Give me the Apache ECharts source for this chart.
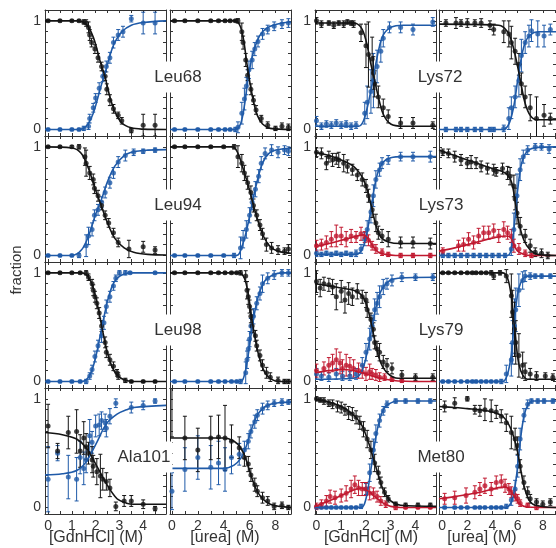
<!DOCTYPE html>
<html>
<head>
<meta charset="utf-8">
<script src="https://cdn.jsdelivr.net/npm/echarts@6/dist/echarts.min.js"></script>
<style>html,body{margin:0;background:#fff}#main{width:556px;height:548px}</style>
</head>
<body>
<div id="main"></div>
<script>
// tick / label values
var gdnTicks = [0, 0.5, 1, 1.5, 2, 2.5, 3, 3.5, 4, 4.5];
var gdnLabels = [0, 1, 2, 3, 4];
var ureaTicks = [0, 1, 2, 3, 4, 5, 6, 7, 8, 9];
var ureaLabels = [0, 2, 4, 6, 8];
var fracTicks = [0, 0.1, 0.2, 0.3, 0.4, 0.5, 0.6, 0.7, 0.8, 0.9, 1];
var fracLabels = [0, 1];

// data: [denaturant, fraction, error]; fits: [denaturant, fraction]
// N = native (black), U = unfolded (blue), I = intermediate (red)
var leu68Gdn_N = [[0,1,0.01],[0.5,1,0.01],[1.0,1,0.01],[1.3,1,0.01],[1.5,0.99,0.02],[1.6,0.98,0.03],[1.7,0.94,0.05],[1.75,0.87,0.05],[1.83,0.8,0.04],[1.97,0.74,0.04],[2.1,0.66,0.04],[2.25,0.58,0.04],[2.4,0.49,0.04],[2.47,0.37,0.05],[2.6,0.27,0.05],[2.75,0.19,0.04],[2.95,0.13,0.03],[3.1,0.08,0.03],[3.5,-0.01,0.02],[4.0,0.04,0.1],[4.5,0.04,0.1]];
var leu68Gdn_Nfit = [[-0.13,1],[1.2,1],[1.6,0.97],[1.9,0.85],[2.2,0.62],[2.4,0.48],[2.6,0.3],[2.8,0.17],[3.1,0.06],[3.5,0.015],[4.0,0.003],[4.96,0]];
var leu68Gdn_U = [[0,0,0.01],[0.5,0,0.01],[1.0,0,0.01],[1.3,0,0.01],[1.5,0.01,0.02],[1.7,0.03,0.03],[1.75,0.1,0.04],[1.9,0.2,0.04],[2.0,0.29,0.04],[2.15,0.38,0.05],[2.3,0.49,0.05],[2.45,0.58,0.05],[2.6,0.66,0.05],[2.75,0.8,0.05],[2.95,0.87,0.05],[3.15,0.9,0.05],[3.5,1.02,0.03],[4.0,0.98,0.1],[4.5,0.98,0.1]];
var leu68Gdn_Ufit = [[-0.13,0],[1.3,0],[1.6,0.03],[1.9,0.15],[2.2,0.38],[2.4,0.52],[2.6,0.68],[2.8,0.8],[3.1,0.9],[3.5,0.96],[4.0,0.985],[4.96,1]];

var leu68Urea_N = [[0.2,1,0.01],[1.0,1,0.01],[2.0,1,0.01],[3.0,1,0.01],[3.6,1,0.01],[4.1,1,0.01],[4.5,1,0.01],[4.9,1,0.01],[5.1,1,0.02],[5.4,0.9,0.08],[5.5,0.8,0.06],[5.7,0.64,0.06],[5.85,0.5,0.05],[6.1,0.37,0.05],[6.3,0.27,0.04],[6.5,0.18,0.04],[6.9,0.1,0.03],[7.4,0.04,0.03],[8.0,0.01,0.02],[8.5,0.03,0.03],[9.0,0.02,0.03]];
var leu68Urea_Nfit = [[-0.15,1],[4.8,1],[5.2,0.97],[5.5,0.85],[5.8,0.6],[6.0,0.45],[6.3,0.26],[6.6,0.13],[7.0,0.05],[7.6,0.01],[9.2,0]];
var leu68Urea_U = [[0.2,0,0.01],[1.0,0,0.01],[2.0,0,0.01],[3.0,0,0.01],[3.6,0,0.01],[4.1,0,0.01],[4.5,0,0.01],[4.9,0,0.02],[5.1,0.02,0.05],[5.4,0.15,0.1],[5.6,0.28,0.1],[5.75,0.4,0.08],[5.95,0.55,0.08],[6.2,0.64,0.08],[6.4,0.74,0.06],[6.65,0.81,0.05],[7.0,0.88,0.05],[7.4,0.92,0.04],[7.9,0.95,0.04],[8.5,0.97,0.04],[9.0,0.98,0.04]];
var leu68Urea_Ufit = [[-0.15,0],[4.9,0],[5.3,0.05],[5.6,0.22],[5.9,0.48],[6.2,0.67],[6.6,0.82],[7.0,0.9],[7.6,0.95],[8.5,0.98],[9.2,0.99]];

var lys72Gdn_N = [[0,1.0,0.03],[0.2,0.97,0.03],[0.5,0.98,0.02],[0.7,0.96,0.03],[0.9,0.98,0.02],[1.1,0.97,0.03],[1.25,0.99,0.02],[1.4,0.98,0.02],[1.5,0.97,0.03],[1.8,0.89,0.08],[2.0,0.77,0.2],[2.1,0.69,0.3],[2.25,0.65,0.2],[2.3,0.52,0.15],[2.35,0.42,0.12],[2.5,0.3,0.1],[2.7,0.2,0.08],[2.9,0.12,0.06],[3.4,0.06,0.05],[3.9,0.06,0.05],[4.7,0.04,0.03]];
var lys72Gdn_Nfit = [[-0.06,0.98],[1.5,0.98],[1.8,0.94],[2.0,0.82],[2.2,0.6],[2.35,0.45],[2.5,0.3],[2.7,0.14],[3.0,0.05],[3.5,0.03],[4.83,0.03]];
var lys72Gdn_U = [[0,0.08,0.04],[0.2,0.03,0.03],[0.4,0.05,0.03],[0.6,0.04,0.03],[0.8,0.06,0.03],[1.0,0.04,0.03],[1.2,0.05,0.03],[1.4,0.03,0.03],[1.6,0.04,0.03],[1.95,0.15,0.1],[2.05,0.25,0.15],[2.2,0.35,0.2],[2.3,0.45,0.25],[2.45,0.58,0.15],[2.6,0.72,0.1],[2.7,0.84,0.08],[2.95,0.94,0.05],[3.4,0.94,0.05],[3.9,0.92,0.05],[4.7,0.99,0.04]];
var lys72Gdn_Ufit = [[-0.06,0.03],[1.7,0.03],[1.9,0.08],[2.1,0.25],[2.3,0.48],[2.5,0.72],[2.7,0.87],[3.0,0.94],[3.5,0.96],[4.83,0.96]];

var lys72Urea_N = [[0.3,0.98,0.03],[1.1,0.98,0.05],[1.5,0.98,0.03],[2.0,0.98,0.04],[2.6,0.98,0.03],[3.1,0.98,0.04],[3.8,0.96,0.04],[4.1,0.92,0.05],[4.9,0.9,0.1],[5.3,0.88,0.12],[5.5,0.8,0.15],[5.8,0.72,0.12],[6.1,0.6,0.1],[6.3,0.42,0.1],[6.6,0.3,0.1],[7.0,0.2,0.12],[7.5,0.1,0.2],[8.1,0.13,0.1],[8.6,0.1,0.05]];
var lys72Urea_Nfit = [[-0.25,0.97],[4.5,0.96],[5.2,0.9],[5.6,0.78],[6.0,0.58],[6.3,0.4],[6.6,0.24],[7.0,0.13],[7.5,0.09],[9.05,0.09]];
var lys72Urea_U = [[0.3,0,0.02],[1.1,0,0.02],[1.5,0,0.02],[2.0,0,0.02],[2.6,0,0.02],[3.1,0,0.02],[3.8,0,0.02],[4.1,0,0.02],[4.9,0.01,0.03],[5.3,0.1,0.1],[5.5,0.2,0.1],[5.8,0.3,0.1],[6.1,0.45,0.15],[6.3,0.68,0.15],[6.6,0.8,0.1],[6.9,0.86,0.1],[7.1,0.91,0.1],[7.6,0.88,0.12],[8.1,0.86,0.1],[8.6,0.92,0.05]];
var lys72Urea_Ufit = [[-0.25,0],[4.8,0],[5.3,0.05],[5.7,0.22],[6.0,0.45],[6.3,0.66],[6.6,0.8],[7.0,0.87],[7.6,0.9],[9.05,0.9]];

var leu94Gdn_N = [[0,1,0.01],[0.5,1,0.01],[1.0,1,0.01],[1.3,1,0.02],[1.55,0.91,0.08],[1.6,0.85,0.12],[1.75,0.76,0.06],[1.9,0.7,0.05],[1.95,0.62,0.05],[2.1,0.55,0.05],[2.25,0.46,0.04],[2.4,0.37,0.04],[2.55,0.3,0.04],[2.75,0.21,0.04],[2.95,0.12,0.04],[3.4,0.06,0.08],[4.0,0.08,0.05],[4.5,0.05,0.03]];
var leu94Gdn_Nfit = [[-0.13,1],[1.0,0.99],[1.4,0.94],[1.7,0.8],[2.0,0.6],[2.2,0.48],[2.5,0.3],[2.8,0.16],[3.2,0.07],[3.6,0.03],[4.2,0.01],[4.96,0.005]];
var leu94Gdn_U = [[0,0,0.01],[0.5,0,0.01],[1.0,0,0.01],[1.3,0,0.02],[1.6,0.09,0.1],[1.7,0.18,0.08],[1.85,0.24,0.06],[1.95,0.37,0.05],[2.1,0.42,0.05],[2.25,0.49,0.05],[2.4,0.58,0.05],[2.6,0.67,0.05],[2.75,0.76,0.05],[2.95,0.86,0.05],[3.25,0.92,0.05],[3.6,0.95,0.03],[4.0,0.96,0.02],[4.5,0.97,0.02]];
var leu94Gdn_Ufit = [[-0.13,0],[1.0,0],[1.4,0.05],[1.7,0.18],[2.0,0.38],[2.25,0.52],[2.5,0.68],[2.8,0.82],[3.2,0.92],[3.6,0.955],[4.2,0.97],[4.96,0.975]];

var leu94Urea_N = [[0.2,1,0.01],[1,1,0.01],[2,1,0.01],[3,1,0.01],[4,1,0.01],[4.8,1,0.02],[5.1,0.91,0.1],[5.4,0.85,0.08],[5.6,0.76,0.07],[5.85,0.67,0.06],[6.1,0.58,0.06],[6.3,0.46,0.06],[6.55,0.37,0.05],[6.8,0.28,0.05],[7.0,0.2,0.05],[7.3,0.1,0.06],[7.7,0.07,0.05],[8.2,0.05,0.04],[8.7,0.04,0.03],[9.0,0.06,0.04]];
var leu94Urea_Nfit = [[-0.15,1],[4.7,1],[5.1,0.94],[5.5,0.8],[6.0,0.6],[6.3,0.46],[6.7,0.3],[7.1,0.17],[7.6,0.08],[8.2,0.04],[9.2,0.02]];
var leu94Urea_U = [[0.2,0,0.01],[1,0,0.01],[2,0,0.01],[3,0,0.01],[4,0,0.01],[4.8,0,0.02],[5.3,0.07,0.1],[5.5,0.15,0.08],[5.75,0.24,0.08],[6.0,0.37,0.07],[6.2,0.49,0.07],[6.45,0.61,0.07],[6.7,0.73,0.06],[6.9,0.85,0.06],[7.2,0.94,0.05],[7.7,0.97,0.05],[8.2,0.95,0.05],[8.7,0.97,0.04],[9.0,0.96,0.04]];
var leu94Urea_Ufit = [[-0.15,0],[5.0,0],[5.4,0.08],[5.8,0.25],[6.2,0.48],[6.6,0.69],[7.0,0.85],[7.5,0.94],[8.2,0.975],[9.2,0.985]];

var lys73Gdn_N = [[0,0.95,0.04],[0.2,0.94,0.05],[0.4,0.85,0.06],[0.5,0.91,0.05],[0.65,0.88,0.06],[0.8,0.89,0.05],[0.9,0.88,0.07],[1.1,0.85,0.08],[1.25,0.82,0.06],[1.45,0.79,0.05],[1.65,0.74,0.05],[1.85,0.7,0.06],[2.0,0.64,0.06],[2.1,0.55,0.06],[2.25,0.42,0.07],[2.4,0.3,0.08],[2.5,0.21,0.06],[2.65,0.18,0.06],[2.9,0.15,0.07],[3.4,0.12,0.05],[3.9,0.12,0.05],[4.6,0.11,0.05]];
var lys73Gdn_Nfit = [[-0.06,0.95],[0.5,0.92],[1.0,0.88],[1.5,0.82],[1.8,0.74],[2.0,0.64],[2.2,0.47],[2.4,0.28],[2.6,0.17],[2.9,0.125],[3.4,0.11],[4.83,0.11]];
var lys73Gdn_U = [[0,0.02,0.03],[0.2,0.01,0.02],[0.4,0.02,0.02],[0.6,0.01,0.02],[0.8,0.02,0.02],[1.0,0.01,0.02],[1.2,0.02,0.02],[1.4,0.01,0.02],[1.6,0.02,0.03],[1.8,0.06,0.04],[1.95,0.15,0.06],[2.05,0.24,0.08],[2.2,0.4,0.1],[2.3,0.55,0.1],[2.4,0.7,0.08],[2.55,0.79,0.06],[2.65,0.85,0.05],[2.9,0.88,0.04],[3.4,0.91,0.04],[3.9,0.91,0.04],[4.6,0.91,0.05]];
var lys73Gdn_Ufit = [[-0.06,0.01],[1.6,0.01],[1.85,0.06],[2.05,0.22],[2.25,0.5],[2.45,0.74],[2.7,0.86],[3.0,0.9],[3.5,0.91],[4.83,0.91]];
var lys73Gdn_I = [[0,0.09,0.05],[0.2,0.1,0.05],[0.4,0.12,0.06],[0.6,0.15,0.07],[0.8,0.18,0.1],[1.0,0.18,0.08],[1.2,0.15,0.07],[1.4,0.18,0.06],[1.6,0.17,0.05],[1.8,0.2,0.06],[1.95,0.17,0.05],[2.1,0.14,0.05],[2.25,0.09,0.04],[2.4,0.06,0.04],[2.65,0.03,0.03],[2.9,0.01,0.02],[3.4,0,0.02],[3.9,0,0.02],[4.6,0,0.02]];
var lys73Gdn_Ifit = [[-0.06,0.08],[0.5,0.11],[1.0,0.14],[1.5,0.17],[1.9,0.19],[2.1,0.15],[2.3,0.08],[2.5,0.03],[2.8,0.01],[3.2,0],[4.83,0]];

var lys73Urea_N = [[0.05,0.95,0.03],[0.5,0.94,0.04],[1.0,0.91,0.05],[1.5,0.88,0.05],[2.0,0.85,0.05],[2.3,0.86,0.06],[2.7,0.85,0.05],[3.1,0.82,0.05],[3.6,0.8,0.05],[4.1,0.79,0.05],[4.3,0.77,0.04],[4.8,0.8,0.05],[5.2,0.76,0.06],[5.4,0.73,0.08],[5.7,0.64,0.1],[5.8,0.52,0.1],[5.95,0.39,0.1],[6.2,0.27,0.08],[6.6,0.18,0.06],[7.0,0.09,0.06],[7.4,0.03,0.04],[7.9,0.02,0.04],[8.4,0,0.03]];
var lys73Urea_Nfit = [[-0.25,0.97],[1.0,0.92],[2.0,0.88],[3.0,0.84],[4.0,0.8],[5.0,0.76],[5.5,0.68],[5.8,0.5],[6.1,0.3],[6.5,0.14],[7.0,0.05],[7.6,0.01],[9.05,0]];
var lys73Urea_U = [[0.05,0,0.02],[0.5,0,0.02],[1.0,0,0.02],[1.5,0,0.02],[2.0,0,0.02],[2.5,0,0.02],[3.0,0,0.02],[3.5,0,0.02],[4.0,0,0.02],[4.5,0,0.02],[5.0,0,0.02],[5.5,0.06,0.06],[5.7,0.24,0.15],[5.95,0.55,0.2],[6.2,0.79,0.1],[6.45,0.91,0.06],[6.8,0.97,0.04],[7.4,1.0,0.03],[7.9,1.0,0.03],[8.5,0.98,0.04]];
var lys73Urea_Ufit = [[-0.25,0],[5.2,0],[5.5,0.07],[5.8,0.35],[6.0,0.6],[6.3,0.84],[6.7,0.95],[7.3,0.99],[9.05,1]];
var lys73Urea_I = [[0.05,0.04,0.03],[1.3,0.09,0.05],[1.7,0.1,0.06],[2.1,0.15,0.06],[2.5,0.12,0.06],[2.9,0.18,0.07],[3.3,0.21,0.06],[3.7,0.21,0.06],[4.1,0.23,0.06],[4.5,0.18,0.06],[4.9,0.24,0.07],[5.2,0.21,0.06],[5.5,0.18,0.06],[5.7,0.09,0.06],[6.1,0.06,0.05],[6.6,0.02,0.03],[7.1,0,0.02]];
var lys73Urea_Ifit = [[-0.25,0.04],[1,0.07],[2,0.1],[3,0.13],[4,0.16],[5,0.18],[5.4,0.17],[5.7,0.1],[6.0,0.04],[6.5,0.01],[7,0],[9.05,0]];

var leu98Gdn_N = [[0,1,0.01],[0.5,1,0.01],[1.0,1,0.01],[1.35,1,0.01],[1.6,1,0.02],[1.7,0.96,0.03],[1.85,0.9,0.04],[1.9,0.84,0.05],[1.97,0.78,0.05],[2.05,0.72,0.05],[2.15,0.63,0.05],[2.25,0.51,0.05],[2.4,0.36,0.05],[2.45,0.27,0.05],[2.6,0.2,0.05],[2.75,0.14,0.04],[2.9,0.08,0.03],[2.95,0.05,0.03],[3.25,0.01,0.02],[3.5,0,0.01],[4.0,0,0.01],[4.5,0,0.01]];
var leu98Gdn_Nfit = [[-0.13,1],[1.4,1],[1.7,0.96],[1.9,0.86],[2.1,0.68],[2.3,0.46],[2.5,0.26],[2.7,0.13],[2.9,0.06],[3.2,0.015],[3.6,0],[4.96,0]];
var leu98Gdn_U = [[0,0,0.01],[0.5,0,0.01],[1.0,0,0.01],[1.35,0,0.01],[1.6,0,0.02],[1.75,0.05,0.03],[1.85,0.11,0.04],[1.97,0.23,0.05],[2.1,0.33,0.05],[2.25,0.42,0.06],[2.35,0.54,0.06],[2.45,0.69,0.06],[2.6,0.78,0.05],[2.75,0.88,0.04],[2.85,0.95,0.03],[3.0,1.0,0.02],[3.25,1.0,0.02],[3.45,1.0,0.01],[4.5,1.0,0.01]];
var leu98Gdn_Ufit = [[-0.13,0],[1.4,0],[1.7,0.04],[1.9,0.14],[2.1,0.32],[2.3,0.54],[2.5,0.74],[2.7,0.88],[2.9,0.95],[3.2,0.99],[3.6,1],[4.96,1]];

var leu98Urea_N = [[0.2,1,0.01],[1,1,0.01],[2,1,0.01],[3,1,0.01],[3.6,1,0.01],[4.1,1,0.01],[4.6,1,0.01],[5.0,1,0.01],[5.3,1,0.02],[5.7,0.97,0.05],[5.8,0.84,0.08],[5.9,0.78,0.07],[6.0,0.69,0.06],[6.1,0.6,0.06],[6.2,0.51,0.06],[6.45,0.42,0.05],[6.55,0.33,0.05],[6.8,0.24,0.05],[7.0,0.15,0.05],[7.3,0.08,0.05],[7.6,0.04,0.04],[8.2,0.01,0.03],[8.7,0,0.02],[9.0,0,0.02]];
var leu98Urea_Nfit = [[-0.15,1],[5.2,1],[5.6,0.95],[5.9,0.8],[6.2,0.55],[6.5,0.35],[6.8,0.2],[7.2,0.08],[7.7,0.02],[8.3,0],[9.2,0]];
var leu98Urea_U = [[0.2,0,0.01],[1,0,0.01],[2,0,0.01],[3,0,0.01],[3.6,0,0.01],[4.1,0,0.01],[4.6,0,0.01],[5.0,0,0.01],[5.3,0,0.02],[5.7,0.08,0.1],[5.8,0.2,0.08],[5.9,0.3,0.08],[6.0,0.39,0.07],[6.1,0.51,0.07],[6.3,0.6,0.07],[6.55,0.72,0.06],[6.8,0.81,0.06],[7.0,0.9,0.08],[7.4,0.95,0.05],[7.9,0.98,0.04],[8.5,1,0.03],[9.0,1,0.03]];
var leu98Urea_Ufit = [[-0.15,0],[5.3,0],[5.6,0.06],[5.9,0.25],[6.2,0.5],[6.5,0.7],[6.8,0.83],[7.2,0.93],[7.8,0.98],[8.5,1],[9.2,1]];

var lys79Gdn_N = [[0,0.92,0.1],[0.15,0.86,0.08],[0.3,0.9,0.06],[0.5,0.89,0.06],[0.65,0.87,0.07],[0.8,0.78,0.12],[1.0,0.83,0.1],[1.15,0.75,0.12],[1.3,0.81,0.1],[1.45,0.78,0.08],[1.65,0.83,0.07],[1.85,0.78,0.06],[2.0,0.75,0.07],[2.05,0.66,0.07],[2.2,0.57,0.06],[2.3,0.48,0.06],[2.35,0.36,0.06],[2.45,0.3,0.07],[2.55,0.27,0.08],[2.7,0.18,0.06],[2.85,0.15,0.06],[3.05,0.12,0.05],[3.45,0.06,0.04],[4.0,0.04,0.03],[4.7,0.04,0.03]];
var lys79Gdn_Nfit = [[-0.06,0.9],[0.5,0.88],[1.0,0.86],[1.5,0.84],[1.8,0.8],[2.0,0.72],[2.2,0.55],[2.4,0.33],[2.6,0.17],[2.9,0.07],[3.3,0.03],[4.83,0.03]];
var lys79Gdn_U = [[0,0.07,0.05],[0.2,0.05,0.04],[0.5,0.04,0.04],[0.8,0.07,0.05],[1.05,0.05,0.04],[1.35,0.05,0.04],[1.6,0.07,0.05],[1.85,0.15,0.07],[2.0,0.27,0.08],[2.15,0.39,0.1],[2.25,0.51,0.1],[2.35,0.66,0.1],[2.45,0.72,0.1],[2.55,0.78,0.1],[2.7,0.87,0.07],[2.85,0.9,0.05],[3.05,0.93,0.05],[3.45,0.96,0.04],[4.0,0.96,0.03],[4.7,0.96,0.03]];
var lys79Gdn_Ufit = [[-0.06,0.02],[1.5,0.03],[1.8,0.08],[2.0,0.22],[2.2,0.45],[2.4,0.68],[2.6,0.83],[2.9,0.92],[3.3,0.95],[4.83,0.96]];
var lys79Gdn_I = [[0,0.1,0.06],[0.3,0.12,0.06],[0.5,0.15,0.07],[0.65,0.17,0.08],[0.8,0.2,0.1],[0.95,0.17,0.1],[1.05,0.12,0.08],[1.2,0.15,0.1],[1.35,0.14,0.08],[1.5,0.12,0.08],[1.7,0.1,0.07],[1.85,0.09,0.06],[2.0,0.07,0.06],[2.15,0.09,0.07],[2.25,0.07,0.05],[2.4,0.06,0.05],[2.55,0.04,0.04],[2.75,0.04,0.03],[3.05,0.02,0.02],[3.45,0.01,0.02]];
var lys79Gdn_Ifit = [[-0.06,0.08],[0.5,0.1],[1.0,0.11],[1.5,0.1],[2.0,0.07],[2.4,0.04],[2.8,0.02],[3.3,0.005],[4.83,0]];

var lys79Urea_N = [[0.05,1,0.01],[0.5,1,0.01],[1.0,1,0.01],[1.5,1,0.01],[2.0,1,0.01],[2.4,1,0.01],[2.7,1,0.01],[3.1,1,0.01],[3.5,1,0.01],[3.9,1,0.02],[4.1,0.97,0.03],[4.6,1,0.02],[5.1,0.97,0.06],[5.5,0.79,0.2],[5.6,0.64,0.2],[5.75,0.48,0.25],[5.85,0.36,0.2],[6.1,0.24,0.2],[6.4,0.15,0.12],[6.6,0.09,0.08],[7.0,0.07,0.05],[7.5,0.05,0.04],[8.2,0.05,0.03],[8.8,0.04,0.03]];
var lys79Urea_Nfit = [[-0.25,1],[4.8,1],[5.2,0.95],[5.5,0.78],[5.7,0.55],[5.9,0.33],[6.1,0.16],[6.4,0.06],[6.8,0.02],[9.05,0.02]];
var lys79Urea_U = [[0.05,0,0.01],[0.5,0,0.01],[1.0,0,0.01],[1.5,0,0.01],[2.0,0,0.01],[2.4,0,0.01],[2.7,0,0.01],[3.1,0,0.01],[3.5,0,0.01],[3.9,0,0.01],[4.3,0,0.01],[4.7,0,0.02],[5.1,0.07,0.08],[5.5,0.2,0.15],[5.6,0.36,0.2],[5.75,0.51,0.25],[5.85,0.66,0.2],[6.1,0.84,0.15],[6.4,0.93,0.08],[6.6,0.97,0.05],[7.0,0.97,0.03],[7.4,0.97,0.02],[7.9,0.97,0.02],[8.6,0.97,0.02]];
var lys79Urea_Ufit = [[-0.25,0],[4.8,0],[5.2,0.07],[5.5,0.25],[5.7,0.5],[5.9,0.72],[6.1,0.86],[6.4,0.94],[6.8,0.97],[9.05,0.97]];

var ala101Gdn_N = [[0,0.75,0.2],[0.4,0.52,0.07],[0.85,0.69,0.15],[1.2,0.7,0.2],[1.35,0.52,0.15],[1.5,0.64,0.15],[1.6,0.56,0.12],[1.7,0.5,0.1],[1.85,0.44,0.12],[1.9,0.38,0.1],[2.05,0.33,0.12],[2.2,0.29,0.2],[2.3,0.26,0.1],[2.45,0.24,0.08],[2.6,0.18,0.08],[2.85,0.01,0.04],[3.2,0.06,0.05],[3.5,0.06,0.05],[4.0,0.03,0.04],[4.5,-0.01,0.02]];
var ala101Gdn_Nfit = [[-0.13,0.69],[0.6,0.67],[1.2,0.63],[1.6,0.55],[2.05,0.38],[2.45,0.22],[2.9,0.08],[3.3,0.04],[3.6,0.03],[4.96,0.03]];
var ala101Gdn_U = [[0,0.26,0.3],[0.4,0.5,0.07],[0.85,0.28,0.2],[1.2,0.26,0.2],[1.35,0.46,0.15],[1.5,0.36,0.15],[1.6,0.44,0.12],[1.75,0.66,0.15],[1.85,0.6,0.1],[2.0,0.75,0.1],[2.15,0.76,0.1],[2.25,0.8,0.08],[2.4,0.78,0.08],[2.45,0.73,0.08],[2.6,0.84,0.07],[2.85,0.96,0.04],[3.5,0.92,0.05],[4.0,0.94,0.04],[4.5,0.98,0.02]];
var ala101Gdn_Ufit = [[-0.13,0.3],[0.6,0.31],[1.2,0.34],[1.6,0.42],[2.05,0.6],[2.45,0.77],[2.9,0.86],[3.3,0.9],[3.6,0.92],[4.96,0.94]];

var ala101Urea_N = [[0,1.25,0.6],[1.0,0.64,0.2],[2.0,0.53,0.2],[3.0,0.64,0.2],[3.6,0.65,0.2],[4.1,0.64,0.3],[4.6,0.61,0.15],[5.2,0.55,0.1],[5.6,0.46,0.08],[5.9,0.4,0.07],[6.1,0.3,0.06],[6.4,0.21,0.06],[6.6,0.15,0.05],[7.0,0.09,0.05],[7.4,0.06,0.04],[7.9,0.01,0.03],[8.5,0.02,0.03],[9.0,0,0.02]];
var ala101Urea_Nfit = [[-0.15,0.64],[4.0,0.64],[4.8,0.61],[5.3,0.55],[5.7,0.45],[6.1,0.3],[6.5,0.17],[7.0,0.08],[7.6,0.03],[8.3,0.01],[9.2,0]];
var ala101Urea_U = [[0,0.15,0.17],[1.0,0.35,0.2],[2.0,0.46,0.2],[3.0,0.37,0.2],[3.6,0.41,0.2],[4.1,0.35,0.2],[4.6,0.46,0.15],[5.2,0.49,0.1],[5.6,0.53,0.08],[5.9,0.61,0.07],[6.1,0.7,0.06],[6.4,0.79,0.06],[6.6,0.85,0.05],[7.0,0.91,0.05],[7.4,0.94,0.04],[7.9,0.96,0.03],[8.5,0.97,0.03],[9.0,0.97,0.02]];
var ala101Urea_Ufit = [[-0.15,0.36],[4.0,0.36],[4.8,0.39],[5.3,0.45],[5.7,0.55],[6.1,0.7],[6.5,0.83],[7.0,0.91],[7.6,0.95],[8.3,0.965],[9.2,0.97]];

var met80Gdn_N = [[0,1.0,0.02],[0.15,0.99,0.02],[0.3,0.98,0.03],[0.5,0.96,0.03],[0.65,0.95,0.04],[0.85,0.93,0.05],[1.0,0.92,0.05],[1.15,0.9,0.05],[1.3,0.87,0.06],[1.45,0.86,0.06],[1.6,0.83,0.06],[1.75,0.78,0.06],[1.9,0.72,0.07],[2.05,0.63,0.08],[2.2,0.53,0.08],[2.35,0.41,0.08],[2.5,0.32,0.06],[2.6,0.23,0.05],[2.75,0.14,0.04],[2.9,0.08,0.03],[3.2,0.03,0.02],[3.6,0.02,0.02],[4.1,0.02,0.02],[4.6,0.02,0.02]];
var met80Gdn_Nfit = [[-0.06,1],[0.5,0.97],[1.0,0.93],[1.4,0.87],[1.8,0.77],[2.1,0.6],[2.3,0.45],[2.5,0.3],[2.7,0.16],[3.0,0.06],[3.4,0.02],[4.83,0.01]];
var met80Gdn_U = [[0,0,0.01],[0.2,0,0.01],[0.4,0,0.01],[0.6,0,0.01],[0.8,0,0.01],[1.0,0,0.01],[1.2,0,0.01],[1.4,0,0.01],[1.6,0,0.01],[1.8,0.01,0.02],[2.0,0.17,0.05],[2.15,0.32,0.08],[2.3,0.53,0.1],[2.4,0.68,0.08],[2.55,0.8,0.06],[2.7,0.89,0.04],[2.85,0.95,0.03],[3.2,0.98,0.02],[3.6,0.98,0.02],[4.1,0.98,0.02],[4.6,0.98,0.02]];
var met80Gdn_Ufit = [[-0.06,0],[1.8,0],[2.0,0.08],[2.2,0.35],[2.35,0.58],[2.5,0.76],[2.7,0.9],[2.9,0.95],[3.3,0.98],[4.83,0.98]];
var met80Gdn_I = [[0,0.01,0.03],[0.2,0.03,0.04],[0.4,0.06,0.05],[0.55,0.1,0.06],[0.75,0.09,0.06],[1.0,0.11,0.06],[1.2,0.13,0.07],[1.4,0.17,0.08],[1.55,0.21,0.08],[1.7,0.18,0.07],[1.85,0.17,0.06],[2.0,0.17,0.06],[2.15,0.13,0.06],[2.3,0.13,0.05],[2.45,0.1,0.05],[2.6,0.06,0.04],[2.8,0.03,0.03],[3.2,0,0.02],[3.6,0,0.01],[4.1,0,0.01],[4.6,0,0.01]];
var met80Gdn_Ifit = [[-0.06,0.01],[0.5,0.06],[1.0,0.11],[1.5,0.16],[1.8,0.18],[2.1,0.15],[2.4,0.09],[2.7,0.04],[3.0,0.01],[3.4,0],[4.83,0]];

var met80Urea_N = [[0.2,0.93,0.05],[1.0,0.96,0.05],[2.0,1.0,0.02],[2.6,0.9,0.04],[3.0,0.89,0.05],[3.4,0.9,0.1],[3.9,0.89,0.1],[4.3,0.88,0.06],[4.7,0.84,0.06],[5.1,0.78,0.08],[5.5,0.69,0.15],[5.8,0.63,0.1],[6.0,0.57,0.08],[6.2,0.38,0.06],[6.5,0.23,0.06],[6.8,0.14,0.05],[7.0,0.08,0.04],[7.5,0.05,0.03],[8.0,0.03,0.03],[8.6,0.05,0.03]];
var met80Urea_Nfit = [[-0.25,0.93],[1,0.92],[2,0.91],[3,0.9],[4,0.88],[4.8,0.84],[5.4,0.74],[5.9,0.56],[6.2,0.38],[6.5,0.2],[6.9,0.07],[7.4,0.02],[9.05,0]];
var met80Urea_U = [[0.2,0,0.01],[1.0,0,0.01],[1.5,0,0.01],[2.0,0,0.01],[2.6,0,0.01],[3.0,0,0.01],[3.4,0,0.01],[3.9,0,0.01],[4.3,0,0.01],[4.7,0,0.01],[5.1,0.01,0.02],[5.5,0.07,0.05],[5.8,0.17,0.08],[6.0,0.38,0.1],[6.2,0.63,0.1],[6.5,0.85,0.06],[6.8,0.95,0.04],[7.1,0.98,0.02],[7.6,0.98,0.02],[8.1,0.98,0.02],[8.8,0.98,0.02]];
var met80Urea_Ufit = [[-0.25,0],[5.0,0],[5.5,0.05],[5.8,0.2],[6.0,0.38],[6.2,0.6],[6.5,0.84],[6.8,0.94],[7.2,0.98],[9.05,0.98]];
var met80Urea_I = [[0.2,0.08,0.05],[1.0,0.09,0.06],[1.9,0.11,0.07],[2.6,0.14,0.06],[3.0,0.17,0.06],[3.4,0.2,0.07],[3.9,0.17,0.06],[4.3,0.23,0.06],[4.7,0.24,0.06],[5.0,0.2,0.06],[5.3,0.17,0.05],[5.5,0.14,0.05],[5.8,0.11,0.05],[6.0,0.08,0.04],[6.2,0.04,0.03],[6.8,0.02,0.02],[7.5,0,0.02]];
var met80Urea_Ifit = [[-0.25,0.08],[1,0.1],[2,0.12],[3,0.14],[4,0.17],[5,0.19],[5.4,0.16],[5.8,0.09],[6.2,0.03],[6.7,0.005],[9.05,0]];

// layout
var colLeft = [45, 170, 315, 439];
var rowTop = [10, 136, 262, 388];
var panelW = 121, panelH = 126;
var colRange = [[-0.13, 4.96], [-0.15, 9.2], [-0.06, 4.83], [-0.25, 9.05]];
var FONT = '"Liberation Sans", Arial, sans-serif';
var colN = '#141414', colU = '#1f5aa8', colI = '#c0182f';

var panels = [
    {row:0, col:0, n:leu68Gdn_N, nf:leu68Gdn_Nfit, u:leu68Gdn_U, uf:leu68Gdn_Ufit},
    {row:0, col:1, n:leu68Urea_N, nf:leu68Urea_Nfit, u:leu68Urea_U, uf:leu68Urea_Ufit},
    {row:0, col:2, n:lys72Gdn_N, nf:lys72Gdn_Nfit, u:lys72Gdn_U, uf:lys72Gdn_Ufit},
    {row:0, col:3, n:lys72Urea_N, nf:lys72Urea_Nfit, u:lys72Urea_U, uf:lys72Urea_Ufit},
    {row:1, col:0, n:leu94Gdn_N, nf:leu94Gdn_Nfit, u:leu94Gdn_U, uf:leu94Gdn_Ufit},
    {row:1, col:1, n:leu94Urea_N, nf:leu94Urea_Nfit, u:leu94Urea_U, uf:leu94Urea_Ufit},
    {row:1, col:2, n:lys73Gdn_N, nf:lys73Gdn_Nfit, u:lys73Gdn_U, uf:lys73Gdn_Ufit, i:lys73Gdn_I, if_:lys73Gdn_Ifit},
    {row:1, col:3, n:lys73Urea_N, nf:lys73Urea_Nfit, u:lys73Urea_U, uf:lys73Urea_Ufit, i:lys73Urea_I, if_:lys73Urea_Ifit},
    {row:2, col:0, n:leu98Gdn_N, nf:leu98Gdn_Nfit, u:leu98Gdn_U, uf:leu98Gdn_Ufit},
    {row:2, col:1, n:leu98Urea_N, nf:leu98Urea_Nfit, u:leu98Urea_U, uf:leu98Urea_Ufit},
    {row:2, col:2, n:lys79Gdn_N, nf:lys79Gdn_Nfit, u:lys79Gdn_U, uf:lys79Gdn_Ufit, i:lys79Gdn_I, if_:lys79Gdn_Ifit},
    {row:2, col:3, n:lys79Urea_N, nf:lys79Urea_Nfit, u:lys79Urea_U, uf:lys79Urea_Ufit},
    {row:3, col:0, n:ala101Gdn_N, nf:ala101Gdn_Nfit, u:ala101Gdn_U, uf:ala101Gdn_Ufit},
    {row:3, col:1, n:ala101Urea_N, nf:ala101Urea_Nfit, u:ala101Urea_U, uf:ala101Urea_Ufit},
    {row:3, col:2, n:met80Gdn_N, nf:met80Gdn_Nfit, u:met80Gdn_U, uf:met80Gdn_Ufit, i:met80Gdn_I, if_:met80Gdn_Ifit},
    {row:3, col:3, n:met80Urea_N, nf:met80Urea_Nfit, u:met80Urea_U, uf:met80Urea_Ufit, i:met80Urea_I, if_:met80Urea_Ifit}
];

// residue labels sit between the two panels of a pair
var residueLabels = [
    {text:'Leu68', x:178, y:77}, {text:'Leu94', x:178, y:205},
    {text:'Leu98', x:178, y:330}, {text:'Ala101', x:144, y:457},
    {text:'Lys72', x:440, y:77}, {text:'Lys73', x:441, y:205},
    {text:'Lys79', x:441, y:330}, {text:'Met80', x:441, y:457}
];

function errBar(params, api) {
    var x = api.value(0), y = api.value(1), e = api.value(2);
    var hi = api.coord([x, y + e]), lo = api.coord([x, y - e]);
    var st = {stroke: api.visual('color'), lineWidth: 1};
    return {type: 'group', children: [
        {type: 'line', shape: {x1: hi[0], y1: hi[1], x2: lo[0], y2: lo[1]}, style: st},
        {type: 'line', shape: {x1: hi[0] - 2, y1: hi[1], x2: hi[0] + 2, y2: hi[1]}, style: st},
        {type: 'line', shape: {x1: lo[0] - 2, y1: lo[1], x2: lo[0] + 2, y2: lo[1]}, style: st}
    ]};
}

var grids = [], xAxes = [], yAxes = [], series = [];
var lineSt = {color: '#333', width: 1};

panels.forEach(function (p, i) {
    grids.push({left: colLeft[p.col], top: rowTop[p.row], width: panelW, height: panelH});
    var isGdn = (p.col % 2 === 0);
    var rng = colRange[p.col];
    [ 'bottom', 'top' ].forEach(function (pos) {
        xAxes.push({
            gridIndex: i, type: 'value', position: pos, min: rng[0], max: rng[1],
            axisLine: {onZero: false, lineStyle: lineSt},
            axisTick: {inside: true, length: 3, customValues: isGdn ? gdnTicks : ureaTicks, lineStyle: lineSt},
            axisLabel: {show: pos === 'bottom' && p.row === 3, customValues: isGdn ? gdnLabels : ureaLabels,
                        margin: 5, fontSize: 14, color: '#333', fontFamily: FONT},
            splitLine: {show: false}
        });
    });
    [ 'left', 'right' ].forEach(function (pos) {
        yAxes.push({
            gridIndex: i, type: 'value', position: pos, min: -0.06, max: 1.1,
            axisLine: {onZero: false, lineStyle: lineSt},
            axisTick: {inside: true, length: 3, customValues: fracTicks, lineStyle: lineSt},
            axisLabel: {show: pos === 'left' && isGdn, customValues: fracLabels,
                        margin: 4, fontSize: 14, color: '#333', fontFamily: FONT},
            splitLine: {show: false}
        });
    });
    var sets = [[p.u, p.uf, colU]];
    if (p.i) sets.push([p.i, p.if_, colI]);
    sets.push([p.n, p.nf, colN]);
    sets.forEach(function (s) {
        var ax = {xAxisIndex: 2 * i, yAxisIndex: 2 * i};
        series.push(Object.assign({type: 'custom', renderItem: errBar, data: s[0], clip: true,
            itemStyle: {color: s[2]}, encode: {x: 0, y: 1}}, ax));
        series.push(Object.assign({type: 'scatter', data: s[0].map(function (d) { return [d[0], d[1]]; }),
            symbolSize: 5, itemStyle: {color: s[2]}, clip: true}, ax));
        series.push(Object.assign({type: 'line', data: s[1], smooth: 0.35, showSymbol: false, clip: true,
            lineStyle: {color: s[2], width: 1.6}}, ax));
    });
});

var graphics = residueLabels.map(function (l) {
    return {type: 'text', x: l.x, y: l.y, z: 100,
        style: {text: l.text, font: '17px ' + FONT, fill: '#333', align: 'center', verticalAlign: 'middle',
                backgroundColor: '#fff', padding: [7, 2]}};
});
graphics.push({type: 'text', x: 17, y: 270, rotation: Math.PI / 2, z: 100,
    style: {text: 'fraction', font: '15px ' + FONT, fill: '#333', align: 'center', verticalAlign: 'middle'}});
[['[GdnHCl] (M)', 96], ['[urea] (M)', 225], ['[GdnHCl] (M)', 371], ['[urea] (M)', 482]].forEach(function (t) {
    graphics.push({type: 'text', x: t[1], y: 538, z: 100,
        style: {text: t[0], font: '16px ' + FONT, fill: '#333', align: 'center', verticalAlign: 'middle'}});
});

var chart = echarts.init(document.getElementById('main'));
chart.setOption({
    animation: false,
    backgroundColor: '#fff',
    grid: grids,
    xAxis: xAxes,
    yAxis: yAxes,
    series: series,
    graphic: graphics
});
</script>
</body>
</html>
